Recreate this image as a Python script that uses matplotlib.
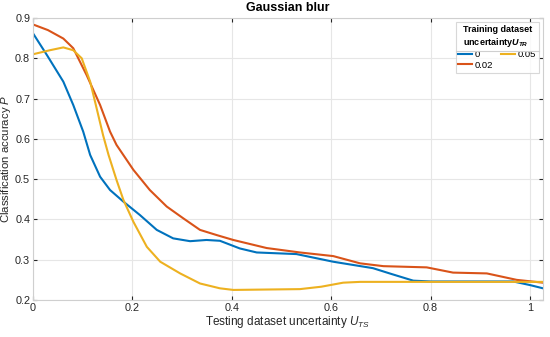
import numpy as np
import matplotlib
matplotlib.use("Agg")
import matplotlib.pyplot as plt
from matplotlib.lines import Line2D

plt.rcParams['font.family'] = ['Liberation Sans', 'DejaVu Sans']
plt.rcParams['mathtext.fontset'] = 'custom'
plt.rcParams['mathtext.it'] = 'Liberation Sans:italic'
plt.rcParams['mathtext.bf'] = 'Liberation Sans:bold'
plt.rcParams['mathtext.bfit'] = 'Liberation Sans:bold:italic'

# testing uncertainty U_TS and accuracy P for each training uncertainty
u_blue = [0, 0.028, 0.061, 0.081, 0.101, 0.115, 0.135, 0.155, 0.182, 0.215, 0.249, 0.282, 0.316,
          0.349, 0.376, 0.416, 0.45, 0.53, 0.604, 0.684, 0.72, 0.765, 0.8, 0.9, 0.966, 1.0, 1.026]
p_blue = [0.862, 0.808, 0.742, 0.684, 0.618, 0.560, 0.506, 0.473, 0.444, 0.411, 0.374, 0.353, 0.346,
          0.349, 0.347, 0.328, 0.318, 0.314, 0.295, 0.279, 0.265, 0.248, 0.246, 0.246, 0.246, 0.237, 0.229]

u_red = [0, 0.03, 0.061, 0.081, 0.108, 0.135, 0.155, 0.168, 0.202, 0.235, 0.269, 0.302, 0.336, 0.37,
         0.403, 0.47, 0.537, 0.604, 0.658, 0.705, 0.792, 0.845, 0.913, 0.973, 1.026]
p_red = [0.884, 0.87, 0.849, 0.825, 0.758, 0.684, 0.618, 0.585, 0.523, 0.473, 0.432, 0.403, 0.374, 0.361,
         0.349, 0.329, 0.318, 0.309, 0.291, 0.284, 0.281, 0.268, 0.266, 0.250, 0.243]

u_yel = [0, 0.034, 0.061, 0.081, 0.098, 0.115, 0.128, 0.141, 0.152, 0.168, 0.182, 0.202, 0.229, 0.256,
         0.296, 0.336, 0.376, 0.403, 0.47, 0.537, 0.58, 0.624, 0.658, 0.8, 1.026]
p_yel = [0.810, 0.820, 0.827, 0.820, 0.800, 0.742, 0.676, 0.609, 0.56, 0.498, 0.448, 0.394, 0.332, 0.295,
         0.266, 0.241, 0.229, 0.225, 0.226, 0.227, 0.233, 0.243, 0.245, 0.245, 0.245]

labels = ['0', '0.02', '0.05']
colors = ['#0072BD', '#D95319', '#EDB120']

fig = plt.figure(figsize=(5.5, 3.37), dpi=100)
ax = fig.add_axes([33/550, 1-300/337, 510/550, 282/337])

ax.plot(u_blue, p_blue, color=colors[0], lw=1.5, label=labels[0])
ax.plot(u_red, p_red, color=colors[1], lw=1.5, label=labels[1])
ax.plot(u_yel, p_yel, color=colors[2], lw=1.5, label=labels[2])

ax.set_xlim(0, 1.026)
ax.set_ylim(0.2, 0.9)
ax.set_xticks([0, 0.2, 0.4, 0.6, 0.8, 1])
ax.set_xticklabels(['0', '0.2', '0.4', '0.6', '0.8', '1'])
ax.set_yticks(np.arange(0.2, 0.91, 0.1))
ax.grid(True, color='#e6e6e6', lw=0.8)
ax.tick_params(direction='in', length=3, labelsize=7.8, colors='#262626', top=True, right=True, pad=2)
for s in ax.spines.values():
    s.set_color('#cfcfcf')

ax.set_xlabel('Testing dataset uncertainty $U_{TS}$', fontsize=8.5, color='#262626', labelpad=1)
ax.set_ylabel('Classification accuracy $P$', fontsize=8.2, color='#262626')
ax.yaxis.set_label_coords(-0.039, 0.5)
ax.set_title('Gaussian blur', fontsize=9, fontweight='bold', pad=5)

leg = ax.legend(ncol=2, loc='upper right', fontsize=6.8, frameon=True, fancybox=False,
                title='Training dataset\nuncertainty$\\mathbfit{U}_{\\mathbfit{TR}}$',
                title_fontproperties={'weight': 'bold', 'size': 6.5},
                handlelength=1.4, handletextpad=0.3, columnspacing=0.9,
                borderaxespad=0.45, labelspacing=0.15, borderpad=0.3)
leg.get_frame().set_edgecolor('#cfcfcf')
leg.get_frame().set_linewidth(0.8)

# separator line under the legend title
fig.canvas.draw()
fb = leg.get_frame().get_window_extent()
tb = leg.get_title().get_window_extent()
ysep = tb.y0 - 2
fig.add_artist(Line2D([fb.x0 / 550, fb.x1 / 550], [ysep / 337, ysep / 337],
                      color='#cfcfcf', lw=0.8, transform=fig.transFigure))

fig.savefig('out.png', dpi=100)
